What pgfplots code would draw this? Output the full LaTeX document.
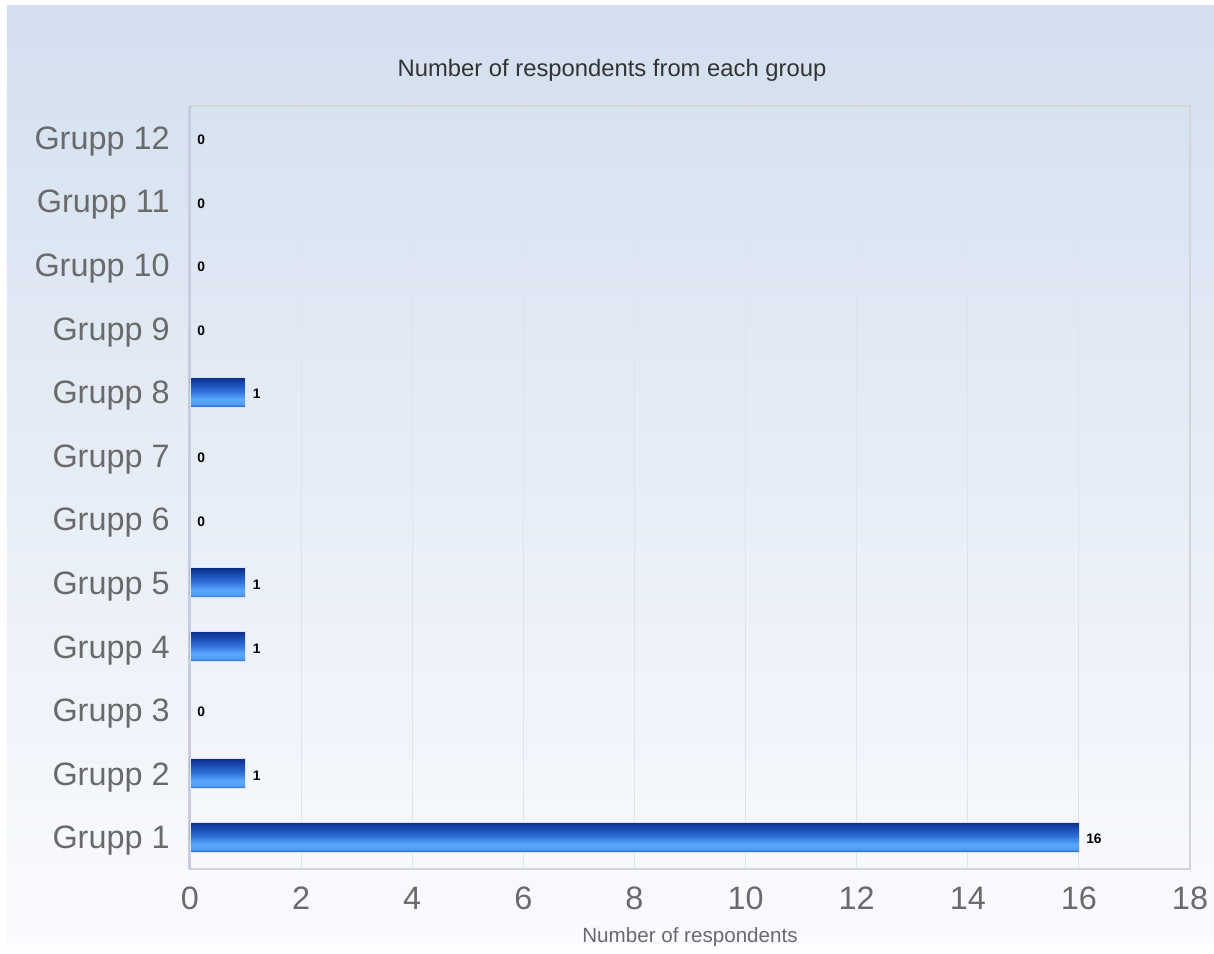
\documentclass[border=0pt]{standalone}
\usepackage{pgfplots}
\pgfplotsset{compat=1.18}
\usepackage{fontspec}
\setmainfont{Liberation Sans}
\definecolor{bgtop}{HTML}{D3DFEF}
\definecolor{bgbot}{HTML}{FAFBFE}
\definecolor{bartop}{HTML}{0A2C8C}
\definecolor{barmid}{HTML}{2E6FD8}
\definecolor{barlight}{HTML}{5AA8FF}
\definecolor{barbot}{HTML}{1E5CCB}
\definecolor{ticktext}{HTML}{6A6A6A}
\definecolor{titletext}{HTML}{333333}
\definecolor{gridc}{HTML}{DFE3EA}
\definecolor{framec}{HTML}{D2D4D8}
\definecolor{leftc}{HTML}{C7CCE0}
\pgfdeclareverticalshading{barshade}{100bp}{color(0bp)=(barbot); color(25bp)=(barbot); color(30bp)=(barlight!85!barbot); color(38bp)=(barlight); color(52bp)=(barmid); color(75bp)=(bartop); color(100bp)=(bartop)}
\begin{document}
\begin{tikzpicture}
% background (1px = 0.5pt); axis south west at (0,0)
\fill[white] (-95pt,-39.5pt) rectangle (512pt,434.5pt);
\shade[top color=bgtop, bottom color=bgbot] (-91.5pt,-38pt) rectangle (512pt,431.5pt);
\begin{axis}[
  at={(0,0)}, anchor=south west,
  scale only axis,
  width=500pt, height=381.5pt,
  xmin=0, xmax=18,
  ymin=0.5, ymax=12.5,
  xtick={2,4,...,18},
  extra x ticks={0},
  extra x tick labels={0},
  extra x tick style={grid=major, major grid style={draw=leftc, line width=1.5pt}},
  ytick={1,...,12},
  yticklabels={Grupp 1,Grupp 2,Grupp 3,Grupp 4,Grupp 5,Grupp 6,Grupp 7,Grupp 8,Grupp 9,Grupp 10,Grupp 11,Grupp 12},
  xmajorgrids,
  major grid style={draw=gridc, line width=0.5pt},
  major tick length=0pt,
  axis line style={draw=framec, line width=0.8pt},
  /pgf/number format/assume math mode=true,
  tick label style={font=\fontsize{16.2}{18}\selectfont, text=ticktext, inner sep=0pt},
  xticklabel style={anchor=north, yshift=-8.7pt},
  yticklabel style={anchor=base east, xshift=-10pt, yshift=-5.8pt},
  xlabel={Number of respondents},
  xlabel style={font=\fontsize{10.3}{12}\selectfont, text=ticktext, at={(axis description cs:0.5,0)}, anchor=center, yshift=-34pt},
  point meta=x,
  nodes near coords,
  nodes near coords style={font=\bfseries\fontsize{6.9}{8}\selectfont, text=black, inner sep=0pt, anchor=west, xshift=3.5pt, yshift=-1pt},
  every axis plot/.append style={xbar, bar width=15pt, bar shift=0pt},
  bar on/.style={draw=white!70!blue!40, line width=0.4pt, shading=barshade},
  bar off/.style={draw=none, fill=none},
]
\addplot[bar on]  coordinates {(16,1)};
\addplot[bar on]  coordinates {(1,2)};
\addplot[bar off] coordinates {(0,3)};
\addplot[bar on]  coordinates {(1,4)};
\addplot[bar on]  coordinates {(1,5)};
\addplot[bar off] coordinates {(0,6)};
\addplot[bar off] coordinates {(0,7)};
\addplot[bar on]  coordinates {(1,8)};
\addplot[bar off] coordinates {(0,9)};
\addplot[bar off] coordinates {(0,10)};
\addplot[bar off] coordinates {(0,11)};
\addplot[bar off] coordinates {(0,12)};
\end{axis}
\node[font=\fontsize{11.9}{14}\selectfont, text=titletext] at (211pt,399.5pt) {Number of respondents from each group};
\end{tikzpicture}
\end{document}
